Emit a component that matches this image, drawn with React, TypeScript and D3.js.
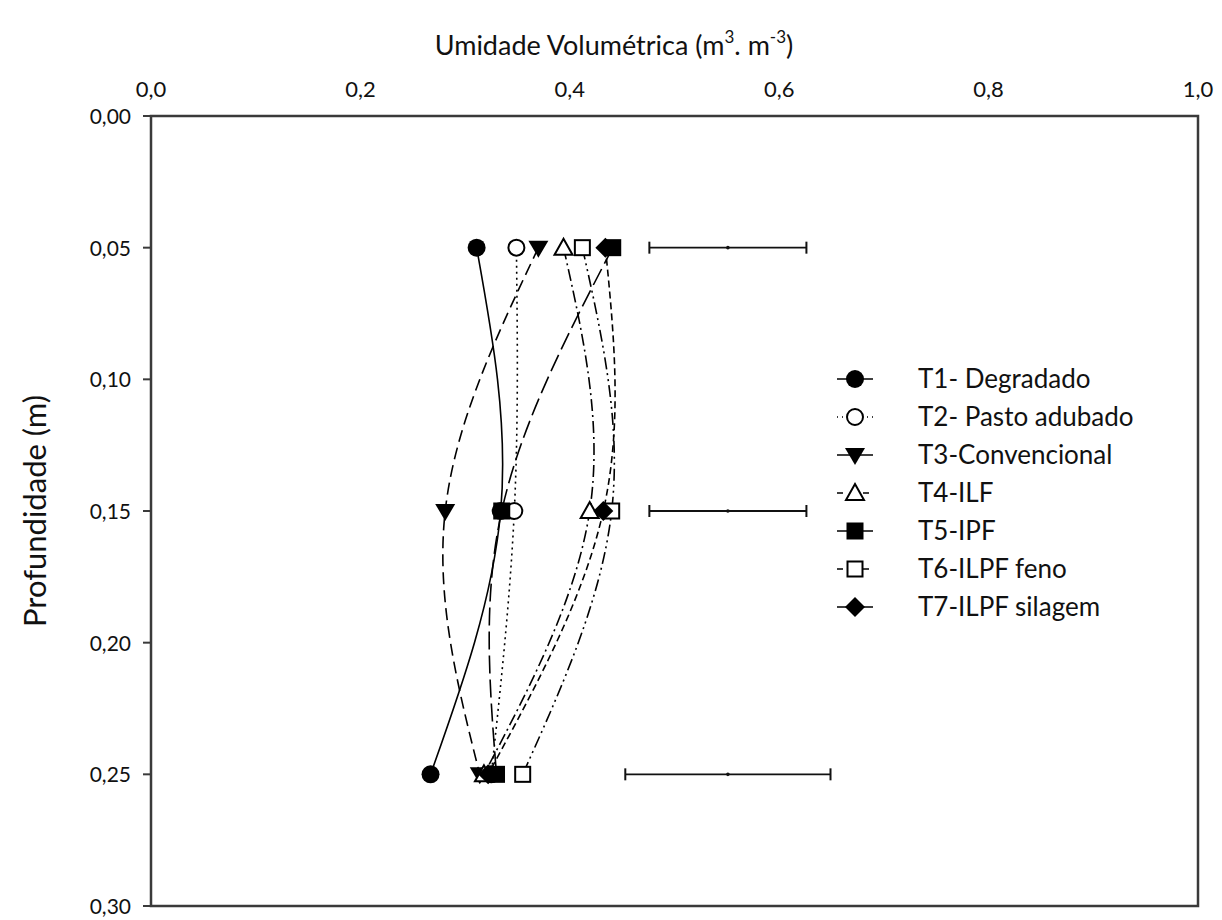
import React from "react";
import * as d3 from "d3";

const depths = [0.05, 0.15, 0.25];
const seriesNames = [
  "T1- Degradado",
  "T2- Pasto adubado",
  "T3-Convencional",
  "T4-ILF",
  "T5-IPF",
  "T6-ILPF feno",
  "T7-ILPF silagem",
];
const T1 = [0.311, 0.334, 0.267];
const T2 = [0.349, 0.347, 0.325];
const T3 = [0.37, 0.281, 0.314];
const T4 = [0.394, 0.419, 0.318];
const T5 = [0.441, 0.335, 0.33];
const T6 = [0.412, 0.44, 0.355];
const T7 = [0.434, 0.432, 0.322];
const errCenter = [0.551, 0.551, 0.551];
const errHalf = [0.075, 0.075, 0.098];
const xTicks = [0, 0.2, 0.4, 0.6, 0.8, 1.0];
const yTicks = [0, 0.05, 0.1, 0.15, 0.2, 0.25, 0.3];

const seriesValues = [T1, T2, T3, T4, T5, T6, T7];
const markerTypes = ["circleF", "circleO", "triDownF", "triUpO", "squareF", "squareO", "diamondF"];
const dashes = ["", "2,4", "12,6", "12,4,2,4", "18,6", "12,4,2,4,2,4", "7,4"];

const X0 = 151, X1 = 1198, Y0 = 116, Y1 = 906;
const x = d3.scaleLinear().domain([0, 1]).range([X0, X1]);
const y = d3.scaleLinear().domain([0, 0.3]).range([Y0, Y1]);
const fmtX = (v: number) => d3.format(".1f")(v).replace(".", ",");
const fmtY = (v: number) => d3.format(".2f")(v).replace(".", ",");
const FONT = "Lato, 'Open Sans', sans-serif";
const AX = "#3a3a3a";

function Marker({ type, cx, cy }: { type: string; cx: number; cy: number }) {
  const sw = 2;
  switch (type) {
    case "circleF":
      return <circle cx={cx} cy={cy} r={9} fill="#000" />;
    case "circleO":
      return <circle cx={cx} cy={cy} r={8} fill="#fff" stroke="#000" strokeWidth={sw} />;
    case "triDownF":
      return <path d={`M${cx - 10},${cy - 7}L${cx + 10},${cy - 7}L${cx},${cy + 10}Z`} fill="#000" />;
    case "triUpO":
      return (
        <path d={`M${cx - 9},${cy + 7}L${cx + 9},${cy + 7}L${cx},${cy - 9}Z`} fill="#fff" stroke="#000" strokeWidth={sw} />
      );
    case "squareF":
      return <rect x={cx - 8.5} y={cy - 8.5} width={17} height={17} fill="#000" />;
    case "squareO":
      return <rect x={cx - 7.5} y={cy - 7.5} width={15} height={15} fill="#fff" stroke="#000" strokeWidth={sw} />;
    case "diamondF":
      return <path d={`M${cx},${cy - 10}L${cx + 10},${cy}L${cx},${cy + 10}L${cx - 10},${cy}Z`} fill="#000" />;
  }
  return null;
}

export default function App() {
  const line = d3
    .line<[number, number]>()
    .x((d) => x(d[0]))
    .y((d) => y(d[1]))
    .curve(d3.curveNatural);

  const legendX = 855;
  const legendY0 = 379;
  const legendDy = 38;

  return (
    <svg width={1222} height={920} style={{ display: "block", position: "absolute", left: 0, top: 0 }}>
      <rect width={1222} height={920} fill="#fff" />
      {/* title */}
      <text x={614} y={55} textAnchor="middle" fontFamily={FONT} fontSize={27} fill="#111">
        Umidade Volumétrica (m
        <tspan dy={-12} fontSize={17}>3</tspan>
        <tspan dy={12}>. m</tspan>
        <tspan dy={-12} fontSize={17}>-3</tspan>
        <tspan dy={12}>)</tspan>
      </text>
      <text
        transform={`translate(46,${(Y0 + Y1) / 2}) rotate(-90)`}
        textAnchor="middle"
        fontFamily={FONT}
        fontSize={31}
        fill="#111"
      >
        Profundidade (m)
      </text>
      {/* frame */}
      <rect x={X0} y={Y0} width={X1 - X0} height={Y1 - Y0} fill="none" stroke={AX} strokeWidth={2.5} />
      {/* x ticks */}
      {xTicks.map((t) => (
        <g key={"x" + t}>
          <text x={x(t)} y={Y0 - 19} textAnchor="middle" fontFamily={FONT} fontSize={22} fill="#111">
            {fmtX(t)}
          </text>
        </g>
      ))}
      {yTicks.map((t) => (
        <g key={"y" + t}>
          <line x1={X0} x2={X0 - 8} y1={y(t)} y2={y(t)} stroke={AX} strokeWidth={2} />
          <text x={X0 - 20} y={y(t) + 8} textAnchor="end" fontFamily={FONT} fontSize={21} fill="#111">
            {fmtY(t)}
          </text>
        </g>
      ))}
      {/* lines */}
      {seriesValues.map((vals, i) => (
        <path
          key={"l" + i}
          d={line(vals.map((v, j) => [v, depths[j]] as [number, number])) || ""}
          fill="none"
          stroke="#000"
          strokeWidth={1.6}
          strokeDasharray={dashes[i] || undefined}
        />
      ))}
      {/* error bars */}
      {depths.map((dp, j) => {
        const yy = y(dp);
        const l = x(errCenter[j] - errHalf[j]);
        const r = x(errCenter[j] + errHalf[j]);
        return (
          <g key={"e" + j}>
            <line x1={l} x2={r} y1={yy} y2={yy} stroke="#111" strokeWidth={1.8} />
            <line x1={l} x2={l} y1={yy - 6} y2={yy + 6} stroke="#111" strokeWidth={2} />
            <line x1={r} x2={r} y1={yy - 6} y2={yy + 6} stroke="#111" strokeWidth={2} />
            <circle cx={x(errCenter[j])} cy={yy} r={1.8} fill="#111" />
          </g>
        );
      })}
      {/* markers */}
      {seriesValues.map((vals, i) =>
        vals.map((v, j) => <Marker key={"m" + i + "-" + j} type={markerTypes[i]} cx={x(v)} cy={y(depths[j])} />)
      )}
      {/* legend */}
      {seriesNames.map((name, i) => {
        const ly = legendY0 + i * legendDy;
        return (
          <g key={"lg" + i}>
            <line
              x1={legendX - 18}
              x2={legendX + 18}
              y1={ly}
              y2={ly}
              stroke="#000"
              strokeWidth={1.6}
              strokeDasharray={i === 1 ? "1,4" : i === 3 || i === 5 ? "6,14,2,4" : undefined}
            />
            <Marker type={markerTypes[i]} cx={legendX} cy={ly} />
            <text x={918} y={ly + 9} fontFamily={FONT} fontSize={26} fill="#111">
              {name}
            </text>
          </g>
        );
      })}
    </svg>
  );
}
